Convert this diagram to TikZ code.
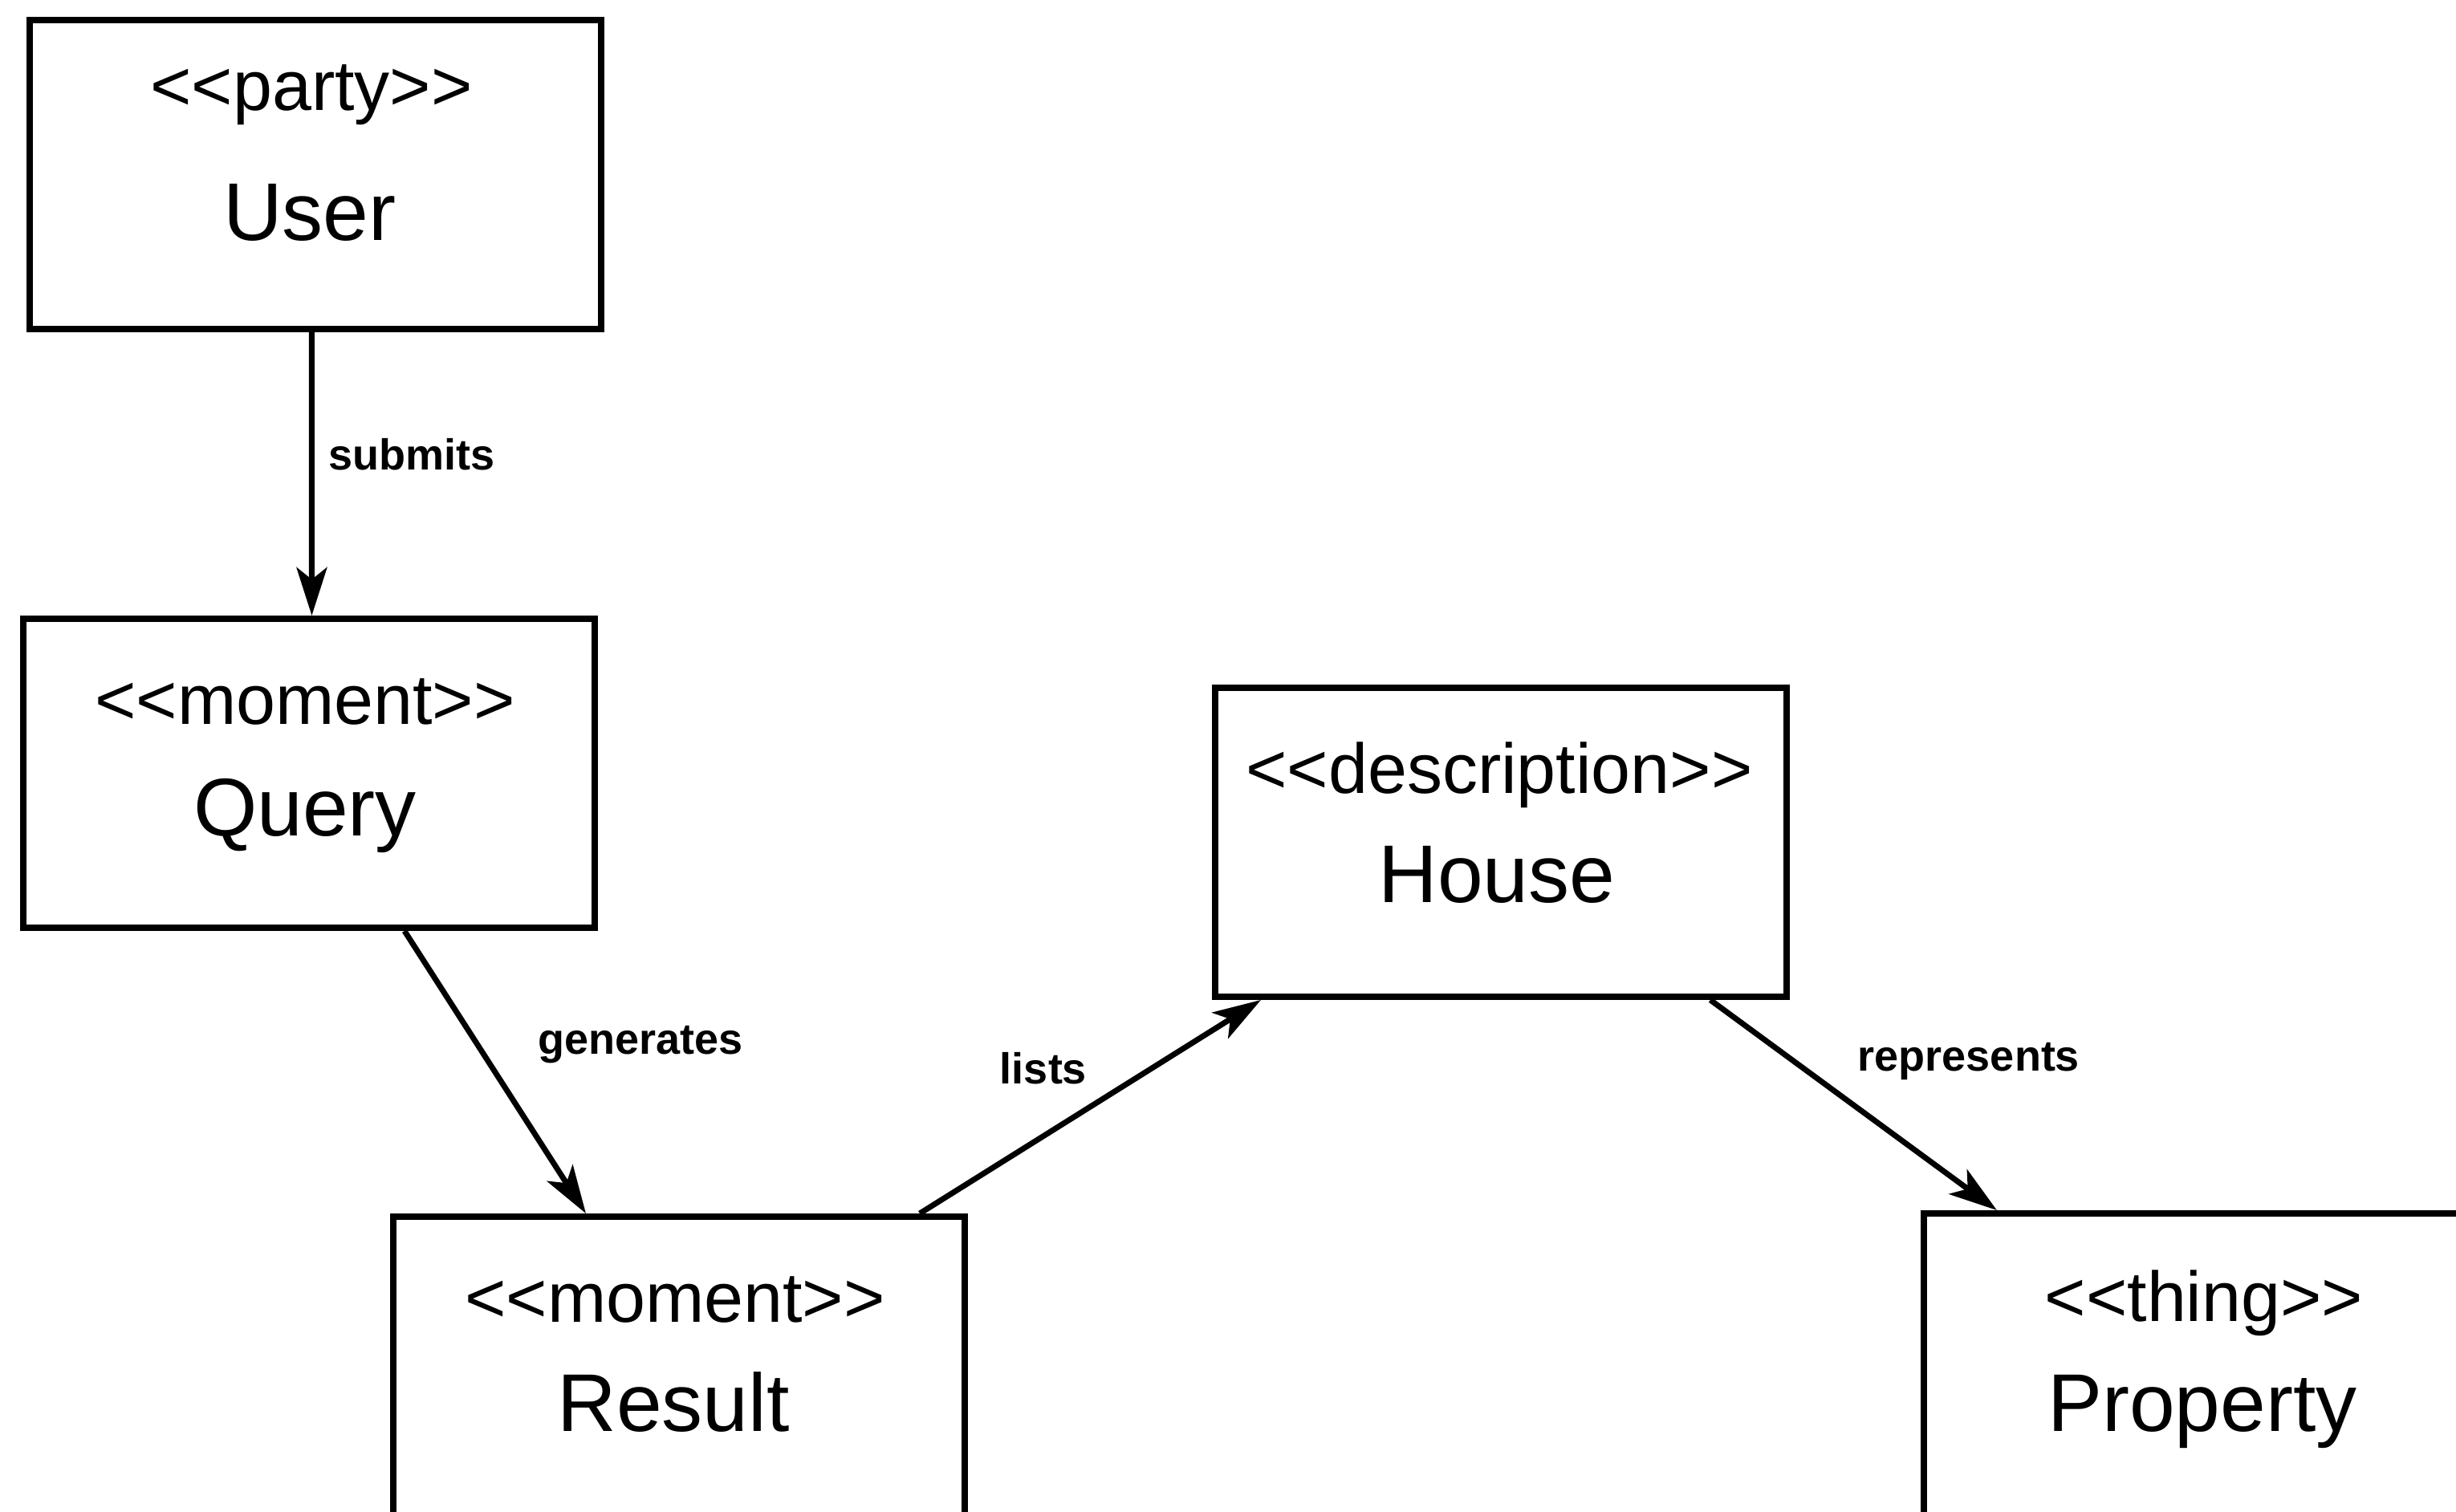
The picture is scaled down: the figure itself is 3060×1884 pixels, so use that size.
\documentclass[tikz,border=0pt]{standalone}
\usepackage{fontspec}
\setmainfont{Liberation Sans}[Ligatures=TeXOff]
\usetikzlibrary{arrows.meta}
\begin{document}
\begin{tikzpicture}[x=0.1pt,y=-0.1pt,
  umlbox/.style={draw, line width=0.8pt, minimum width=71.2pt, minimum height=38.5pt, inner sep=0pt, anchor=north west},
  stereo/.style={inner sep=0pt, font=\fontsize{8.8}{10}\selectfont},
  cname/.style={inner sep=0pt, font=\fontsize{10.2}{12}\selectfont},
  lbl/.style={inner sep=0pt, font=\bfseries\fontsize{5.4}{6}\selectfont},
  conn/.style={line width=0.7pt, -{Stealth[length=6pt,width=3.8pt,inset=1.5pt]}}]
\clip (0,0) rectangle (3060,1884);
\fill[white] (0,0) rectangle (3060,1884);
% boxes
\node[umlbox] (user) at (33,21) {};
\node[umlbox] (query) at (25,767) {};
\node[umlbox] (house) at (1510,853) {};
\node[umlbox] (result) at (486,1512) {};
\node[umlbox] (property) at (2393,1508) {};
% texts
\node[stereo] (userS) at (388,118) {<<party>>};
\node[cname] (userN) at (386,265) {User};
\node[stereo] (queryS) at (380,874) {<<moment>>};
\node[cname] (queryN) at (380,1016) {Query};
\node[stereo] (houseS) at (1868,966) {<<description>>};
\node[cname] (houseN) at (1865,1090) {House};
\node[stereo] (resultS) at (841,1619) {<<moment>>};
\node[cname] (resultN) at (839,1747) {Result};
\node[stereo] (propertyS) at (2746,1624) {<<thing>>};
\node[cname] (propertyN) at (2744,1759) {Property};
% connectors
\draw[conn] ([xshift=-0.45pt]user.south) -- ([xshift=0.35pt]query.north);
\draw[conn] ([xshift=11.9pt]query.south) -- ([xshift=-11.6pt]result.north);
\draw[conn] ([xshift=30pt]result.north) -- ([xshift=-29.9pt]house.south);
\draw[conn] ([xshift=26.1pt]house.south) -- ([xshift=9.5pt]property.north west);
% labels
\node[lbl] (lsubmits) at (513,566) {submits};
\node[lbl] (lgenerates) at (798,1302) {generates};
\node[lbl] (llists) at (1300,1331) {lists};
\node[lbl] (lrepresents) at (2453,1322) {represents};
\end{tikzpicture}
\end{document}
